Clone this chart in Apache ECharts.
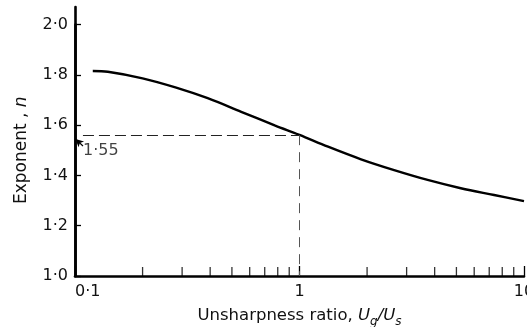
<!DOCTYPE html>
<html><head><meta charset="utf-8">
<script src="https://cdn.jsdelivr.net/npm/echarts@6/dist/echarts.min.js"></script>
<style>html,body{margin:0;padding:0;background:#fff}#c{width:527px;height:327px}</style>
</head><body><div id="c"></div>
<script>
// ---- data ----
const ratio    = [0.12, 0.14, 0.2, 0.28, 0.39, 0.55, 0.78, 1, 1.34, 1.88, 2.64, 3.72, 5.23, 7.36, 10];
const exponent = [1.815, 1.812, 1.786, 1.75, 1.707, 1.653, 1.598, 1.561, 1.514, 1.464, 1.421, 1.382, 1.349, 1.322, 1.298];
const yTickValues = [1.0, 1.2, 1.4, 1.6, 1.8, 2.0];
const xTickValues = [0.1, 1, 10];
const xTickLabels = ['0·1', '1', '10'];
const minorTicks = [0.2, 0.3, 0.4, 0.5, 0.6, 0.7, 0.8, 0.9, 2, 3, 4, 5, 6, 7, 8, 9];
const refX = 1;
const refY = 1.56;
const refLabel = '1·55';
const refLineStartX = 0.1085;
const arrowFrom = [0.1085, 1.517];
const arrowTo = [0.1005, 1.545];
const labelAt = [0.1085, 1.497];

const FONT = 'DejaVu Sans';
const chart = echarts.init(document.getElementById('c'), null, {renderer: 'canvas'});
const fmtY = v => v.toFixed(1).replace('.', '·');
const fmtX = v => {
  const i = xTickValues.findIndex(t => Math.abs(Math.log10(t) - Math.log10(v)) < 1e-6);
  return i >= 0 ? xTickLabels[i] : '';
};

chart.setOption({
  animation: false,
  backgroundColor: '#fff',
  textStyle: {fontFamily: FONT, color: '#111'},
  grid: [
    {left: 75, right: 3, top: 24.5, bottom: 51, containLabel: false, outerBoundsMode: 'none'},
    {left: 75, right: 3, top: 7, bottom: 51, containLabel: false, outerBoundsMode: 'none'}
  ],
  xAxis: [{
    type: 'log', logBase: 10, min: xTickValues[0], max: xTickValues[xTickValues.length - 1],
    gridIndex: 0,
    axisLine: {lineStyle: {color: '#000', width: 2.6}},
    axisTick: {inside: true, length: 10, lineStyle: {color: '#000', width: 1.3}},
    axisLabel: {formatter: fmtX, fontSize: 16, fontFamily: FONT, color: '#111', margin: 8, alignMinLabel: 'left'},
    splitLine: {show: false},
    name: '{t|Unsharpness ratio, }{i|U}{s|g}{i|/U}{s|s}',
    nameLocation: 'middle', nameGap: 30,
    nameTextStyle: {
      fontFamily: FONT, fontSize: 16, color: '#111',
      rich: {
        t: {fontFamily: FONT, fontSize: 16.5, color: '#111', lineHeight: 20},
        i: {fontFamily: FONT, fontSize: 16.5, color: '#111', fontStyle: 'italic', lineHeight: 20},
        s: {fontFamily: FONT, fontSize: 12, color: '#111', fontStyle: 'italic', verticalAlign: 'bottom', lineHeight: 20, padding: [0, 0, -2, 0]}
      }
    }
  }, {
    type: 'value', gridIndex: 1, show: false, min: 0, max: 1
  }],
  yAxis: [{
    type: 'value', gridIndex: 0, min: yTickValues[0], max: yTickValues[yTickValues.length - 1], interval: 0.2,
    axisLine: {show: true, lineStyle: {color: '#000', width: 2.6}},
    axisTick: {show: true, inside: true, length: 6, lineStyle: {color: '#000', width: 1.3}},
    axisLabel: {formatter: fmtY, fontSize: 16, fontFamily: FONT, color: '#111', margin: 7},
    splitLine: {show: false},
    name: '{t|Exponent , }{i|n}',
    nameLocation: 'middle', nameGap: 45,
    nameTextStyle: {
      fontFamily: FONT, fontSize: 17, color: '#111',
      rich: {
        t: {fontFamily: FONT, fontSize: 17, color: '#111'},
        i: {fontFamily: FONT, fontSize: 17, color: '#111', fontStyle: 'italic'}
      }
    }
  }, {
    type: 'value', gridIndex: 1, min: 0, max: 1,
    axisLine: {show: true, lineStyle: {color: '#000', width: 2.6}},
    axisTick: {show: false}, axisLabel: {show: false}, splitLine: {show: false}
  }],
  series: [{
    type: 'line', xAxisIndex: 0, yAxisIndex: 0,
    data: ratio.map((x, i) => [x, exponent[i]]),
    smooth: 0.35, showSymbol: false, silent: true,
    lineStyle: {color: '#000', width: 2.4},
    markLine: {
      silent: true, symbol: 'none', animation: false,
      label: {show: false},
      lineStyle: {color: '#222', width: 1.2, type: [11, 5]},
      data: [
        [{coord: [refLineStartX, refY]}, {coord: [refX, refY]}],
        [{coord: [refX, refY]}, {coord: [refX, yTickValues[0]], lineStyle: {color: '#555', width: 1, type: [10, 7]}}],
        [{coord: arrowFrom, symbol: 'none', lineStyle: {type: 'solid', color: '#000', width: 1.2}},
         {coord: arrowTo, symbol: 'arrow', symbolSize: [6, 8]}]
      ]
    }
  }, {
    type: 'scatter', xAxisIndex: 0, yAxisIndex: 0, silent: true, clip: false,
    data: [labelAt], symbolSize: 0,
    label: {show: true, position: 'right', distance: 0, formatter: refLabel, fontSize: 16, fontFamily: FONT, color: '#111'}
  }, {
    type: 'scatter', xAxisIndex: 0, yAxisIndex: 0, silent: true, clip: false,
    data: minorTicks.map(v => [v, yTickValues[0]]),
    symbol: 'rect', symbolSize: [1.3, 9], symbolOffset: [0, -4.5],
    itemStyle: {color: '#000'}
  }]
});
</script>
</body></html>
